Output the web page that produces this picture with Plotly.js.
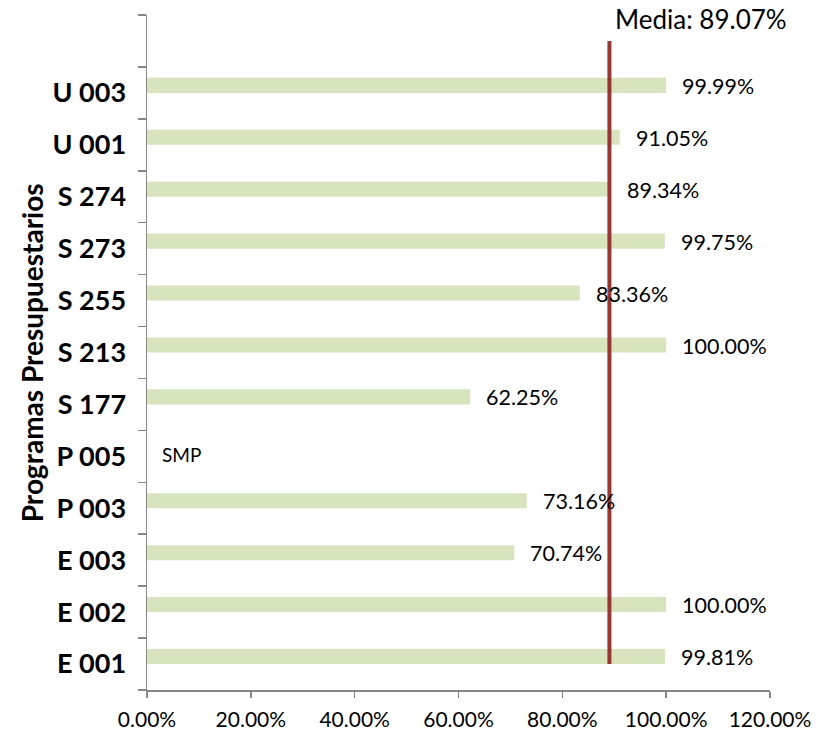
<!DOCTYPE html>
<html>
<head>
<meta charset="utf-8">
<script src="https://cdn.plot.ly/plotly-3.0.1.min.js"></script>
<style>html,body{margin:0;padding:0;background:#fff;}#chart{width:821px;height:733px;}</style>
</head>
<body>
<div id="chart"></div>
<script>
// Data
const programas = ["E 001","E 002","E 003","P 003","P 005","S 177","S 213","S 255","S 273","S 274","U 001","U 003"];
const avance = [99.81, 100.00, 70.74, 73.16, null, 62.25, 100.00, 83.36, 99.75, 89.34, 91.05, 99.99];
const sinMeta = ["", "", "", "", "SMP", "", "", "", "", "", "", ""];
const media = 89.07;
const xTickVals = [0, 20, 40, 60, 80, 100, 120];
const xTickText = ["0.00%","20.00%","40.00%","60.00%","80.00%","100.00%","120.00%"];
const yTitle = "Programas Presupuestarios";
const mediaLabel = "Media: " + media.toFixed(2) + "%";

const FONT = "Lato, 'Open Sans', sans-serif";
const categoryArr = programas.concat(["\u00a0"]);

const bar = {
  type: "bar",
  orientation: "h",
  y: programas,
  x: avance,
  marker: {color: "#D7E4BD"},
  offset: 0,
  width: 0.29,
  hoverinfo: "skip",
  showlegend: false
};

const annotations = [];
programas.forEach((p, i) => {
  if (avance[i] !== null) {
    annotations.push({
      x: avance[i], y: p, xref: "x", yref: "y",
      text: avance[i].toFixed(2) + "%",
      showarrow: false, xanchor: "left", xshift: 14, yshift: 7,
      font: {family: FONT, size: 21.5, color: "#000"}
    });
  }
  if (sinMeta[i]) {
    annotations.push({
      x: 0, y: p, xref: "x", yref: "y",
      text: sinMeta[i],
      showarrow: false, xanchor: "left", xshift: 13, yshift: 2,
      font: {family: FONT, size: 19, color: "#000"}
    });
  }
});
annotations.push({
  x: media, y: 1, xref: "x", yref: "paper",
  text: mediaLabel, showarrow: false, xanchor: "left", yanchor: "bottom",
  xshift: 4, yshift: -22,
  font: {family: FONT, size: 26, color: "#000"}
});
annotations.push({
  x: -0.185, y: 0.5, xref: "paper", yref: "paper",
  text: "<b>" + yTitle + "</b>", textangle: -90, showarrow: false,
  xanchor: "center", yanchor: "middle",
  font: {family: FONT, size: 28, color: "#000"}
});

const layout = {
  width: 821, height: 733,
  margin: {l: 147, r: 51, t: 15, b: 43},
  paper_bgcolor: "#fff", plot_bgcolor: "#fff",
  font: {family: FONT, color: "#000"},
  xaxis: {
    range: [0, 120], tickvals: xTickVals, ticktext: xTickText,
    showgrid: false, zeroline: false,
    showline: true, linecolor: "#868686", linewidth: 1.5,
    ticks: "outside", ticklen: 6, tickcolor: "#868686", tickwidth: 1.5,
    ticklabelstandoff: 4,
    tickfont: {family: FONT, size: 21, color: "#000"},
    fixedrange: true
  },
  yaxis: {
    type: "category", categoryorder: "array", categoryarray: categoryArr,
    range: [-0.5, 12.5],
    showgrid: false, zeroline: false,
    showline: true, linecolor: "#868686", linewidth: 1.5,
    ticks: "outside", ticklen: 8, tickcolor: "#868686", tickwidth: 1.5,
    tickson: "boundaries",
    ticklabelstandoff: 14,
    tickfont: {family: FONT, size: 27, color: "#000", weight: "bold"},
    fixedrange: true
  },
  shapes: [{
    type: "line", xref: "x", yref: "y",
    x0: media, x1: media, y0: 0, y1: 12,
    line: {color: "#953735", width: 4}
  }],
  annotations: annotations,
  showlegend: false
};

Plotly.newPlot("chart", [bar], layout, {displayModeBar: false, staticPlot: true});
</script>
</body>
</html>
